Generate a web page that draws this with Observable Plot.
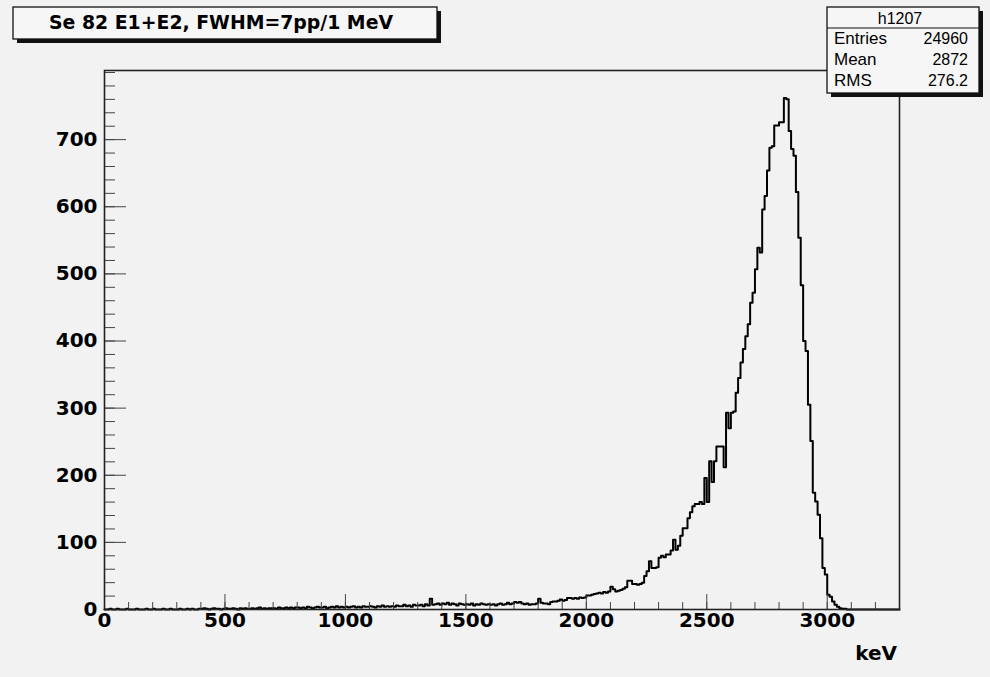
<!DOCTYPE html>
<html><head><meta charset="utf-8">
<script src="https://cdn.jsdelivr.net/npm/d3@7"></script>
<script src="https://cdn.jsdelivr.net/npm/@observablehq/plot@0.6"></script>
<style>
html,body{margin:0;padding:0;background:#f2f2f2;}
#chart{width:990px;height:677px;}
</style></head><body><div id="chart"></div>
<script>
// ---- data ----
const binWidth = 10; // keV per bin, bins start at 0
const counts = [
  0,0,1,0,0,1,0,0,0,1,
  0,0,0,1,0,0,0,1,0,0,
  1,0,0,0,1,0,0,1,0,0,
  0,1,0,0,1,0,1,0,0,1,
  1,2,1,0,1,2,1,1,0,1,
  2,1,1,2,1,0,2,1,2,1,
  1,2,1,2,3,1,2,1,2,2,
  2,1,3,2,2,3,2,3,2,3,
  3,2,3,2,4,3,2,3,4,3,
  3,4,2,3,4,3,5,3,4,3,
  4,3,4,5,3,4,3,5,4,4,
  5,4,3,5,4,6,4,5,4,5,
  4,6,5,5,7,5,6,4,7,6,
  6,7,5,8,6,16,7,8,9,7,
  9,8,10,7,9,8,6,9,8,7,
  8,7,9,6,8,7,9,8,7,8,
  7,8,6,8,9,7,8,10,8,9,
  11,10,11,9,8,9,7,8,8,9,
  16,10,9,9,8,11,12,12,13,15,
  13,14,17,17,16,17,16,18,17,18,
  21,21,22,23,24,25,24,26,25,27,
  34,30,27,28,29,31,33,43,43,38,
  38,37,38,40,50,57,72,62,62,63,
  77,80,78,82,82,88,104,89,95,110,
  121,121,136,145,154,157,157,160,157,196,
  160,221,190,221,243,243,243,212,293,270,
  293,295,323,345,368,388,407,425,457,472,
  507,539,532,596,616,654,688,690,721,721,
  726,726,762,760,713,686,676,622,554,483,
  400,385,305,251,174,161,141,106,62,52,
  22,19,12,7,4,2,1,1,0,0,
  0,0,0,0,0,0,0,0,0,0,
  0,0,0,0,0,0,0,0,0,0
];
const titleText = "Se 82 E1+E2, FWHM=7pp/1 MeV";
const statsName = "h1207";
const statsLabels = ["Entries", "Mean", "RMS"];
const statsValues = ["24960", "2872", "276.2"];
const xTicks = [0, 500, 1000, 1500, 2000, 2500, 3000];
const xMinorTicks = d3.range(0, 3301, 100);
const yTicks = [0, 100, 200, 300, 400, 500, 600, 700];
const yMinorTicks = d3.range(0, 801, 20);
const xLabel = "keV";
const xDomain = [0, 3300];
const yDomain = [0, 803];

// ---- build ----
const steps = counts.map((c, i) => ({x: i * binWidth, y: c}));
steps.push({x: counts.length * binWidth, y: counts[counts.length - 1]});

const blank = () => "";
const fmt = d3.format("d");
const plot = Plot.plot({
  width: 990, height: 677,
  marginLeft: 104, marginRight: 91, marginTop: 70, marginBottom: 68,
  style: {background: "transparent", fontFamily: "'DejaVu Sans', sans-serif", color: "#000", overflow: "visible"},
  x: {domain: xDomain, label: null},
  y: {domain: yDomain, label: null},
  marks: [
    Plot.line(steps, {x: "x", y: "y", curve: "step-after", stroke: "#000", strokeWidth: 2}),
    Plot.axisY(yTicks, {tickSize: 0, tickPadding: 7, fontSize: 20, fontWeight: "bold", tickFormat: fmt}),
    Plot.axisY(yTicks, {tickSize: -22, tickFormat: blank, stroke: "#444"}),
    Plot.axisY(yMinorTicks, {tickSize: -11, tickFormat: blank, stroke: "#444"}),
    Plot.axisX(xTicks, {tickSize: 0, tickPadding: 3, fontSize: 20, fontWeight: "bold", tickFormat: fmt}),
    Plot.axisX(xTicks, {tickSize: -15, tickFormat: blank, stroke: "#444"}),
    Plot.axisX(xMinorTicks, {tickSize: -7, tickFormat: blank, stroke: "#444"}),
    Plot.frame({stroke: "#222", strokeWidth: 1.6})
  ]
});
document.getElementById("chart").appendChild(plot);

const svg = d3.select(plot);
// x axis label
svg.append("text").attr("x", 897).attr("y", 660).attr("text-anchor", "end")
  .attr("font-family", "'DejaVu Sans', sans-serif").attr("font-weight", "bold").attr("font-size", 20)
  .text(xLabel);

// title box
const tb = svg.append("g");
tb.append("rect").attr("x", 17).attr("y", 11).attr("width", 424).attr("height", 32).attr("fill", "#111");
tb.append("rect").attr("x", 13).attr("y", 7).attr("width", 424).attr("height", 32)
  .attr("fill", "#f6f6f6").attr("stroke", "#111").attr("stroke-width", 1.3);
tb.append("text").attr("x", 221).attr("y", 29).attr("text-anchor", "middle")
  .attr("font-family", "'DejaVu Sans', sans-serif").attr("font-weight", "bold").attr("font-size", 19)
  .attr("textLength", 344).attr("lengthAdjust", "spacingAndGlyphs")
  .text(titleText);

// stats box
const sb = svg.append("g");
sb.append("rect").attr("x", 831).attr("y", 11).attr("width", 152).attr("height", 86).attr("fill", "#111");
sb.append("rect").attr("x", 827).attr("y", 7).attr("width", 152).attr("height", 86)
  .attr("fill", "#f6f6f6").attr("stroke", "#111").attr("stroke-width", 1.3);
sb.append("line").attr("x1", 827).attr("x2", 979).attr("y1", 28).attr("y2", 28).attr("stroke", "#111").attr("stroke-width", 1.2);
sb.append("text").attr("x", 900).attr("y", 24).attr("text-anchor", "middle")
  .attr("font-family", "'Liberation Sans', sans-serif").attr("font-size", 16).text(statsName);
const rowY = [44, 65, 86];
statsLabels.forEach((lab, i) => {
  sb.append("text").attr("x", 834).attr("y", rowY[i]).attr("text-anchor", "start")
    .attr("font-family", "'Liberation Sans', sans-serif").attr("font-size", 17).text(lab);
  sb.append("text").attr("x", 968).attr("y", rowY[i]).attr("text-anchor", "end")
    .attr("font-family", "'Liberation Sans', sans-serif").attr("font-size", 16).text(statsValues[i]);
});
</script>
</body></html>
